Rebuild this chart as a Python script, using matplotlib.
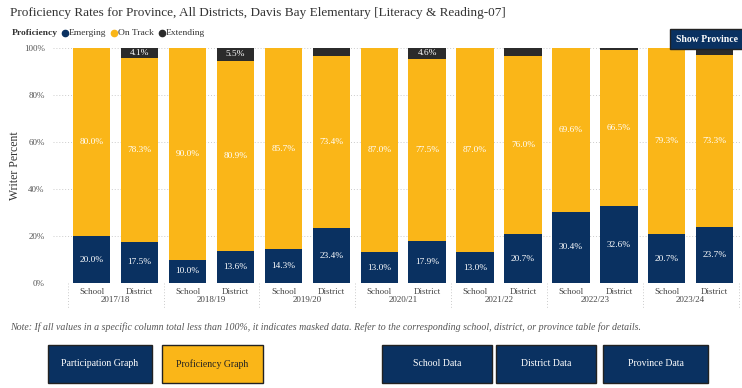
import numpy as np
import matplotlib.pyplot as plt
from matplotlib.patches import Rectangle
from matplotlib.lines import Line2D

plt.rcParams['font.family'] = ['Liberation Serif', 'DejaVu Serif']

years = ['2017/18', '2018/19', '2019/20', '2020/21', '2021/22', '2022/23', '2023/24']
groups = ['School', 'District']

# School / District pairs per year, in percent
emerging = [20.0, 17.5, 10.0, 13.6, 14.3, 23.4, 13.0, 17.9, 13.0, 20.7, 30.4, 32.6, 20.7, 23.7]
on_track = [80.0, 78.3, 90.0, 80.9, 85.7, 73.4, 87.0, 77.5, 87.0, 76.0, 69.6, 66.5, 79.3, 73.3]
extending = [0.0, 4.1, 0.0, 5.5, 0.0, 3.2, 0.0, 4.6, 0.0, 3.3, 0.0, 0.9, 0.0, 3.0]

NAVY = '#0a3161'
GOLD = '#fab618'
DARK = '#2b2b2b'

W, H = 742, 388
fig = plt.figure(figsize=(W / 100, H / 100), dpi=100)
fig.patch.set_facecolor('white')

def fx(px):
    return px / W

def fy(py):
    return 1 - py / H

ax = fig.add_axes([fx(53), fy(283), fx(741) - fx(53), fy(48) - fy(283)])

x = np.arange(len(emerging))
em = np.array(emerging)
ot = np.array(on_track)
ex = np.array(extending)

ax.bar(x, em, width=0.78, color=NAVY, zorder=2)
ax.bar(x, ot, width=0.78, bottom=em, color=GOLD, zorder=2)
ax.bar(x, ex, width=0.78, bottom=em + ot, color=DARK, zorder=2)

for i in range(len(x)):
    for val, base in ((em[i], 0), (ot[i], em[i]), (ex[i], em[i] + ot[i])):
        if val >= 4:
            ax.text(x[i], base + val / 2, f'{val:.1f}%', ha='center', va='center',
                    color='white', fontsize=6.7, zorder=3)

ax.set_xlim(-0.81, 13.55)
ax.set_ylim(0, 100)
ax.set_yticks(range(0, 101, 20))
ax.set_yticklabels([f'{v}%' for v in range(0, 101, 20)], fontsize=6.5, color='#555555')
ax.set_xticks([])
ax.tick_params(axis='y', length=0, pad=6)
ax.grid(axis='y', color='#cccccc', linestyle=(0, (1, 2)), linewidth=0.7, zorder=0)
for s in ax.spines.values():
    s.set_visible(False)
ax.set_ylabel('Writer Percent', fontsize=8.5, color='#333333')
ax.yaxis.set_label_coords(-(53 - 21) / (741 - 53), 0.5)

# category labels and year separators under the axis
tr = ax.get_xaxis_transform()
for i in range(len(x)):
    ax.text(x[i], -0.038, groups[i % 2], transform=tr, ha='center', va='center',
            fontsize=6.5, color='#444444')
for k, yr in enumerate(years):
    ax.text(2 * k + 0.5, -0.072, yr, transform=tr, ha='center', va='center',
            fontsize=6.5, color='#444444')
for b in np.arange(-0.5, 14, 2):
    ax.plot([b, b], [0, -0.11], transform=tr, clip_on=False, color='#cccccc',
            linestyle=(0, (1, 2)), linewidth=0.7)

# title and legend
fig.text(fx(10), fy(13), 'Proficiency Rates for Province, All Districts, Davis Bay Elementary [Literacy & Reading-07]',
         fontsize=9.5, color='#333333', va='center')
fig.text(fx(12), fy(33), 'Proficiency', fontsize=6.8, fontweight='bold', color='#333333', va='center')
legend_items = [('Emerging', NAVY, 65, 69), ('On Track', GOLD, 114, 118), ('Extending', DARK, 162, 166)]
for name, col, mx, tx in legend_items:
    fig.add_artist(Line2D([fx(mx)], [fy(33)], marker='o', markersize=4.5, color=col,
                          linestyle='none', transform=fig.transFigure))
    fig.text(fx(tx), fy(33), name, fontsize=6.8, color='#333333', va='center')

def button(x0, y0, x1, y1, label, face, txt, size=7, weight='normal'):
    fig.patches.append(Rectangle((fx(x0), fy(y1)), fx(x1) - fx(x0), fy(y0) - fy(y1),
                                 transform=fig.transFigure, facecolor=face,
                                 edgecolor='#222222', linewidth=1.0, zorder=5))
    fig.text((fx(x0) + fx(x1)) / 2, (fy(y0) + fy(y1)) / 2, label, ha='center', va='center',
             fontsize=size, color=txt, fontweight=weight, zorder=6)

button(670, 29, 745, 49, 'Show Province', NAVY, 'white', 7, 'bold')
button(48, 345, 152, 383, 'Participation Graph', NAVY, 'white')
button(162, 345, 263, 383, 'Proficiency Graph', GOLD, '#222222')
button(382, 345, 492, 383, 'School Data', NAVY, 'white')
button(496, 345, 596, 383, 'District Data', NAVY, 'white')
button(603, 345, 708, 383, 'Province Data', NAVY, 'white')

fig.text(fx(10), fy(327), 'Note: If all values in a specific column total less than 100%, it indicates masked data. '
         'Refer to the corresponding school, district, or province table for details.',
         fontsize=7.1, style='italic', color='#555555', va='center')

fig.savefig('out.png', dpi=100)
